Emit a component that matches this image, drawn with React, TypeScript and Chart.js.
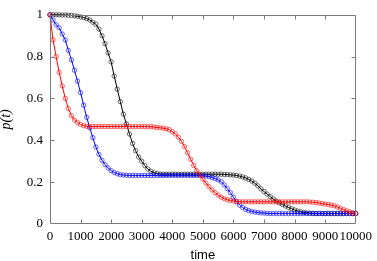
import { useEffect, useRef } from 'react';
import { Chart, registerables } from 'chart.js';
Chart.register(...registerables);

const times = [
  0, 100, 200, 300, 400, 500, 600, 700, 800, 900,
  1000, 1100, 1200, 1300, 1400, 1500, 1600, 1700, 1800, 1900,
  2000, 2100, 2200, 2300, 2400, 2500, 2600, 2700, 2800, 2900,
  3000, 3100, 3200, 3300, 3400, 3500, 3600, 3700, 3800, 3900,
  4000, 4100, 4200, 4300, 4400, 4500, 4600, 4700, 4800, 4900,
  5000, 5100, 5200, 5300, 5400, 5500, 5600, 5700, 5800, 5900,
  6000, 6100, 6200, 6300, 6400, 6500, 6600, 6700, 6800, 6900,
  7000, 7100, 7200, 7300, 7400, 7500, 7600, 7700, 7800, 7900,
  8000, 8100, 8200, 8300, 8400, 8500, 8600, 8700, 8800, 8900,
  9000, 9100, 9200, 9300, 9400, 9500, 9600, 9700, 9800, 9900,
  10000,
];

const blackSeries = [
  1.0, 1.0, 1.0, 1.0, 0.999, 0.999, 0.998, 0.997, 0.995, 0.993,
  0.99, 0.987, 0.982, 0.975, 0.965, 0.955, 0.932, 0.9, 0.862, 0.818,
  0.775, 0.707, 0.645, 0.585, 0.525, 0.478, 0.43, 0.385, 0.35, 0.32,
  0.3, 0.279, 0.263, 0.252, 0.245, 0.241, 0.239, 0.238, 0.238, 0.238,
  0.238, 0.238, 0.238, 0.238, 0.238, 0.238, 0.238, 0.238, 0.238, 0.238,
  0.238, 0.238, 0.238, 0.238, 0.238, 0.238, 0.238, 0.237, 0.236, 0.235,
  0.234, 0.232, 0.229, 0.225, 0.22, 0.213, 0.205, 0.195, 0.182, 0.168,
  0.155, 0.143, 0.131, 0.12, 0.11, 0.101, 0.093, 0.086, 0.079, 0.073,
  0.067, 0.062, 0.058, 0.055, 0.053, 0.052, 0.051, 0.05, 0.05, 0.05,
  0.05, 0.05, 0.05, 0.05, 0.05, 0.05, 0.05, 0.05, 0.05, 0.05,
  0.05,
];

const blueSeries = [
  1.0, 0.975, 0.952, 0.938, 0.908, 0.88, 0.83, 0.785, 0.735, 0.683,
  0.628, 0.568, 0.51, 0.46, 0.413, 0.368, 0.333, 0.305, 0.284, 0.268,
  0.255, 0.246, 0.24, 0.236, 0.234, 0.233, 0.232, 0.232, 0.232, 0.232,
  0.232, 0.232, 0.232, 0.232, 0.232, 0.232, 0.232, 0.232, 0.232, 0.232,
  0.232, 0.232, 0.232, 0.232, 0.232, 0.232, 0.232, 0.232, 0.232, 0.232,
  0.231, 0.229, 0.226, 0.222, 0.217, 0.211, 0.202, 0.187, 0.169, 0.15,
  0.128, 0.106, 0.09, 0.079, 0.07, 0.064, 0.06, 0.057, 0.055, 0.053,
  0.052, 0.051, 0.05, 0.05, 0.05, 0.05, 0.05, 0.05, 0.05, 0.05,
  0.05, 0.05, 0.05, 0.05, 0.05, 0.05, 0.05, 0.05, 0.05, 0.05,
  0.05, 0.05, 0.05, 0.05, 0.05, 0.05, 0.05, 0.05, 0.05, 0.05,
  0.05,
];

const redSeries = [
  1.0, 0.88, 0.8, 0.725, 0.66, 0.6, 0.552, 0.518, 0.497, 0.485,
  0.476, 0.47, 0.467, 0.466, 0.466, 0.466, 0.466, 0.466, 0.466, 0.466,
  0.466, 0.466, 0.466, 0.466, 0.466, 0.466, 0.466, 0.466, 0.466, 0.466,
  0.466, 0.466, 0.465, 0.465, 0.464, 0.461, 0.46, 0.458, 0.455, 0.451,
  0.441, 0.431, 0.415, 0.395, 0.37, 0.34, 0.31, 0.28, 0.255, 0.235,
  0.214, 0.196, 0.178, 0.163, 0.15, 0.138, 0.128, 0.121, 0.116, 0.112,
  0.11, 0.108, 0.107, 0.106, 0.106, 0.106, 0.106, 0.106, 0.106, 0.106,
  0.106, 0.106, 0.106, 0.106, 0.106, 0.106, 0.106, 0.106, 0.106, 0.106,
  0.106, 0.106, 0.106, 0.106, 0.106, 0.105, 0.104, 0.103, 0.1, 0.098,
  0.095, 0.093, 0.09, 0.087, 0.081, 0.075, 0.069, 0.063, 0.058, 0.053,
  0.05,
];

const xTickLabels = ['0', '1000', '2000', '3000', '4000', '5000', '6000', '7000', '8000', '9000', '10000'];
const yTickLabels = ['0', '0.2', '0.4', '0.6', '0.8', '1'];

const framePlugin = {
  id: 'frame',
  afterDraw(chart: any) {
    const { ctx, chartArea: a, scales } = chart;
    const xs = scales.x;
    const ys = scales.y;
    const L = Math.round(a.left) + 0.5;
    const R = Math.round(a.right) - 0.5;
    const T = Math.round(a.top) + 0.5;
    const B = Math.round(a.bottom) - 0.5;
    ctx.save();
    ctx.strokeStyle = '#7a7a7a';
    ctx.lineWidth = 1;
    ctx.beginPath();
    ctx.rect(L, T, R - L, B - T);
    ctx.stroke();
    const tl = 4;
    ctx.beginPath();
    xs.ticks.forEach((t: any) => {
      if (t.value <= xs.min || t.value >= xs.max) return;
      const px = Math.round(xs.getPixelForValue(t.value)) + 0.5;
      ctx.moveTo(px, B);
      ctx.lineTo(px, B - tl);
      ctx.moveTo(px, T);
      ctx.lineTo(px, T + tl);
    });
    ys.ticks.forEach((t: any) => {
      if (t.value <= ys.min || t.value >= ys.max) return;
      const py = Math.round(ys.getPixelForValue(t.value)) + 0.5;
      ctx.moveTo(L, py);
      ctx.lineTo(L + tl, py);
      ctx.moveTo(R, py);
      ctx.lineTo(R - tl, py);
    });
    ctx.stroke();
    ctx.restore();
  },
};

export default function App() {
  const ref = useRef<HTMLCanvasElement>(null);
  useEffect(() => {
    document.body.style.margin = '0';
    const canvas = ref.current!;
    const mk = (data: number[], color: string, pcolor: string) => ({
      data: times.map((t, i) => ({ x: t, y: data[i] })),
      borderColor: color,
      borderWidth: 1,
      pointRadius: 2.2,
      pointBorderWidth: 0.7,
      pointBackgroundColor: 'rgba(0,0,0,0)',
      pointBorderColor: pcolor,
      fill: false,
      tension: 0,
      clip: false as any,
    });
    const serif = 'Liberation Serif';
    const chart = new Chart(canvas, {
      type: 'line',
      data: {
        datasets: [
          mk(redSeries, '#ff0000', 'rgba(255,0,0,0.85)'),
          mk(blueSeries, '#0000ff', 'rgba(0,0,255,0.85)'),
          mk(blackSeries, '#000000', 'rgba(0,0,0,0.8)'),
        ],
      },
      options: {
        animation: false,
        responsive: false,
        maintainAspectRatio: false,
        devicePixelRatio: 1,
        events: [],
        layout: { padding: { top: 6, right: 16, left: 0, bottom: 0 } },
        plugins: { legend: { display: false }, tooltip: { enabled: false } },
        scales: {
          x: {
            type: 'linear',
            min: 0,
            max: 10000,
            afterFit(s: any) { s.height = 37; },
            grid: { display: false, drawTicks: false },
            border: { display: false },
            ticks: {
              stepSize: 1000,
              padding: 5,
              maxRotation: 0,
              autoSkip: false,
              color: '#000',
              font: { family: serif, size: 13 },
              callback: (_v: any, i: number) => xTickLabels[i],
            },
            title: {
              display: true,
              text: 'time',
              color: '#000',
              font: { family: 'Liberation Sans', size: 13 },
              padding: { top: 0, bottom: -2 },
            },
          },
          y: {
            type: 'linear',
            min: 0,
            max: 1,
            afterFit(s: any) { s.width = 50; },
            grid: { display: false, drawTicks: false },
            border: { display: false },
            ticks: {
              stepSize: 0.2,
              padding: 7,
              autoSkip: false,
              color: '#000',
              font: { family: serif, size: 13 },
              callback: (_v: any, i: number) => yTickLabels[i],
            },
            title: {
              display: true,
              text: 'p(t)',
              color: '#000',
              font: { family: serif, size: 14, style: 'italic' },
              padding: { top: -2.5, bottom: 0 },
            },
          },
        },
      },
      plugins: [framePlugin],
    } as any);
    return () => chart.destroy();
  }, []);
  return <canvas ref={ref} width={377} height={261} style={{ display: 'block' }} />;
}
